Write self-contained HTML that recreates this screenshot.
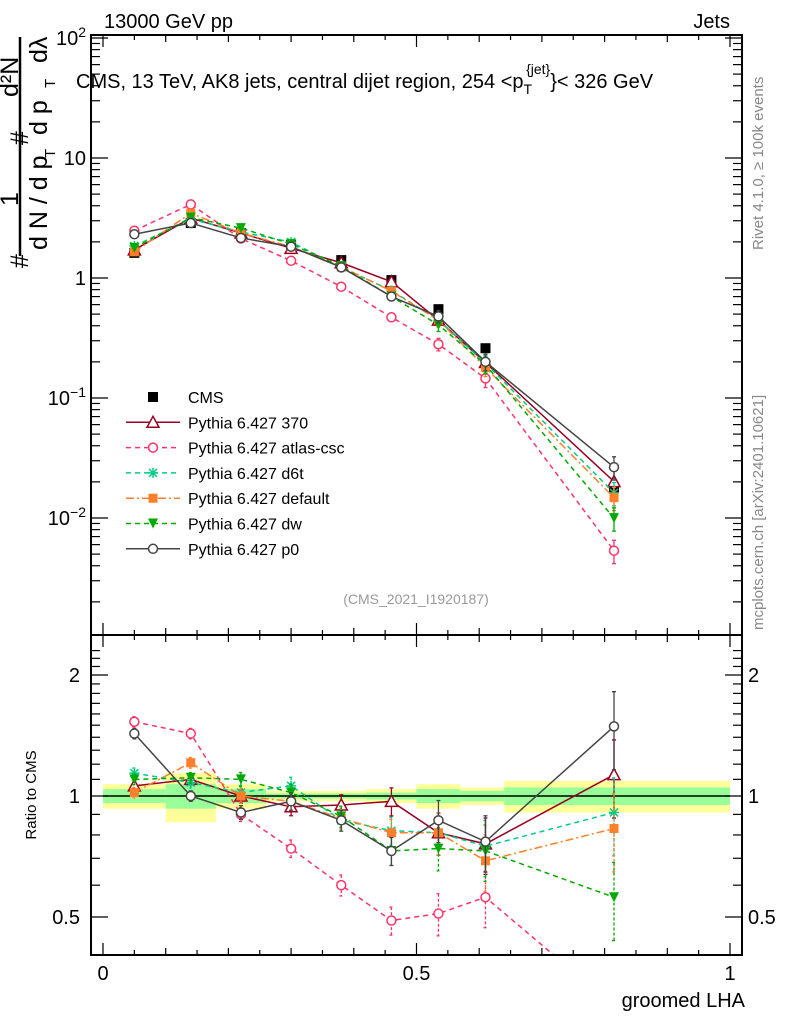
<!DOCTYPE html>
<html><head><meta charset="utf-8">
<style>
body{margin:0;background:#fff;}
svg{display:block;font-family:"Liberation Sans",sans-serif;}
</style></head>
<body>
<svg id="c" width="786" height="1024" viewBox="0 0 786 1024"></svg>
<script>
const binEdges=[0,0.1,0.18,0.26,0.34,0.42,0.5,0.57,0.64,1.0];
const binCenters=[0.05,0.14,0.22,0.30,0.38,0.46,0.535,0.61,0.815];
const cmsValues=[1.62,2.87,2.37,1.88,1.41,0.96,0.55,0.26,0.0178];
const bandTotal=[0.07,0.14,0.07,0.03,0.03,0.04,0.07,0.05,0.09];
const bandStat=[0.04,0.07,0.04,0.015,0.015,0.02,0.04,0.03,0.05];
const ratio370=[1.06,1.10,1.0,0.94,0.95,0.97,0.81,0.76,1.13];
const ratioAtlas=[1.53,1.43,0.90,0.74,0.60,0.49,0.51,0.56,0.30];
const ratioD6t=[1.14,1.08,1.02,1.06,0.87,0.82,0.81,0.75,0.91];
const ratioDefault=[1.02,1.21,1.0,0.97,0.88,0.81,0.81,0.69,0.83];
const ratioDw=[1.10,1.11,1.10,1.02,0.89,0.73,0.74,0.73,0.56];
const ratioP0=[1.43,1.0,0.91,0.97,0.87,0.73,0.87,0.77,1.49];
const relErr=[0.03,0.03,0.04,0.05,0.06,0.08,0.12,0.16,0.22];

const NS="http://www.w3.org/2000/svg";
const svg=document.getElementById('c');
function mk(tag,attrs,parent){const e=document.createElementNS(NS,tag);for(const k in attrs)e.setAttribute(k,attrs[k]);(parent||svg).appendChild(e);return e;}
const X0=103,X1=730,FL=91,FR=742,MT=35,MB=635,RB=955;
const xs=v=>X0+(X1-X0)*v;
const ym=v=>278-120*Math.log10(v);
const yr=v=>796-402*Math.log10(v);

// ratio bands
binCenters.forEach((c,i)=>{
  const x1=xs(binEdges[i]),x2=xs(binEdges[i+1]);
  let r=mk('rect',{x:x1,y:yr(1+bandTotal[i]),width:x2-x1,height:yr(1-bandTotal[i])-yr(1+bandTotal[i]),fill:'#ffff99'});
  
  
  r=mk('rect',{x:x1,y:yr(1+bandStat[i]),width:x2-x1,height:yr(1-bandStat[i])-yr(1+bandStat[i]),fill:'#99ff99'});
  
  
});
mk('line',{x1:X0,x2:X1,y1:yr(1),y2:yr(1),stroke:'#000','stroke-width':1.5,});

const defs=mk('defs',{});
const cp1=mk('clipPath',{id:'cpr'},defs);mk('rect',{x:FL,y:MB,width:FR-FL,height:RB-MB},cp1);
const cp2=mk('clipPath',{id:'cpm'},defs);mk('rect',{x:FL,y:MT,width:FR-FL,height:MB-MT},cp2);

function marker(t,x,y,c,g){
  if(t==='tri')mk('polygon',{points:`${x},${y-6} ${x-6},${y+5} ${x+6},${y+5}`,fill:'#fff',stroke:c,'stroke-width':1.5},g);
  else if(t==='circ')mk('circle',{cx:x,cy:y,r:4.5,fill:'#fff',stroke:c,'stroke-width':1.5},g);
  else if(t==='sq')mk('rect',{x:x-4.5,y:y-4.5,width:9,height:9,fill:c},g);
  else if(t==='tdown')mk('polygon',{points:`${x-5},${y-5} ${x+5},${y-5} ${x},${y+5}`,fill:c},g);
  else if(t==='star'){mk('path',{d:`M${x-5},${y}H${x+5}M${x},${y-5}V${y+5}M${x-4},${y-4}L${x+4},${y+4}M${x-4},${y+4}L${x+4},${y-4}`,stroke:c,'stroke-width':1.5},g);}
  else if(t==='bsq')mk('rect',{x:x-5,y:y-5,width:10,height:10,fill:c},g);
}

// CMS data (drawn first, behind MC)
const gd=mk('g',{});


binCenters.forEach((c,i)=>{marker('bsq',xs(c),ym(cmsValues[i]),'#000',gd);});

const series=[
 {n:'370',r:ratio370,c:'#990022',d:'',m:'tri'},
 {n:'atlas-csc',r:ratioAtlas,c:'#ff3366',d:'5,4',m:'circ'},
 {n:'d6t',r:ratioD6t,c:'#00cc88',d:'5,4',m:'star'},
 {n:'default',r:ratioDefault,c:'#ff7f2a',d:'8,3,2,3',m:'sq'},
 {n:'dw',r:ratioDw,c:'#00aa00',d:'5,4',m:'tdown'},
 {n:'p0',r:ratioP0,c:'#444444',d:'',m:'circ'}
];
series.forEach(s=>{
  const g=mk('g',{'clip-path':'url(#cpr)'});
  
  
  mk('polyline',{points:binCenters.map((c,i)=>xs(c)+','+yr(s.r[i])).join(' '),fill:'none',stroke:s.c,'stroke-width':1.5,'stroke-dasharray':s.d},g);
  binCenters.forEach((c,i)=>{
    const x=xs(c),e=relErr[i]*s.r[i];
    const ya=yr(s.r[i]+e),yb=yr(Math.max(0.05,s.r[i]-e));
    mk('path',{d:`M${x},${ya}V${yb}M${x-2},${ya}H${x+2}M${x-2},${yb}H${x+2}`,stroke:s.c,'stroke-width':1.3,'stroke-dasharray':s.d?'3,2':''},g);
    marker(s.m,x,yr(s.r[i]),s.c,g);
  });
  const g2=mk('g',{'clip-path':'url(#cpm)'});
  
  
  const vals=s.r.map((r,i)=>r*cmsValues[i]);
  mk('polyline',{points:binCenters.map((c,i)=>xs(c)+','+ym(vals[i])).join(' '),fill:'none',stroke:s.c,'stroke-width':1.5,'stroke-dasharray':s.d},g2);
  binCenters.forEach((c,i)=>{
    const x=xs(c),e=relErr[i]*vals[i];
    if(i>=5){const ya=ym(vals[i]+e),yb=ym(vals[i]-e);mk('path',{d:`M${x},${ya}V${yb}M${x-2},${ya}H${x+2}M${x-2},${yb}H${x+2}`,stroke:s.c,'stroke-width':1.3},g2);}
    marker(s.m,x,ym(vals[i]),s.c,g2);
  });
});

// frames
mk('rect',{x:FL,y:MT,width:FR-FL,height:MB-MT,fill:'none',stroke:'#000','stroke-width':2,});
mk('rect',{x:FL,y:MB,width:FR-FL,height:RB-MB,fill:'none',stroke:'#000','stroke-width':2,});

// x ticks
for(let k=0;k<=20;k++){const v=k*0.05,x=xs(v),L=(k%10===0)?12:(k%2===0?7:5);
  [MT,MB].forEach(y0=>mk('line',{x1:x,x2:x,y1:y0,y2:y0+L,stroke:'#000','stroke-width':1.2}));
  [MB,RB].forEach(y0=>mk('line',{x1:x,x2:x,y1:y0,y2:y0-L,stroke:'#000','stroke-width':1.2}));
}
[['0',0],['0.5',0.5],['1',1]].forEach(([t,v])=>{const e=mk('text',{x:xs(v),y:980,'font-size':20,'text-anchor':'middle',});e.textContent=t;});
let t=mk('text',{x:745,y:1007,'font-size':20,'text-anchor':'end',});t.textContent='groomed LHA';

// main y ticks
for(let d=-4;d<=2;d++){for(let m=1;m<10;m++){const v=m*Math.pow(10,d),y=ym(v);if(y<MT||y>MB)continue;const L=m===1?17:9;
  mk('line',{x1:FL,x2:FL+L,y1:y,y2:y,stroke:'#000','stroke-width':1.2});mk('line',{x1:FR,x2:FR-L,y1:y,y2:y,stroke:'#000','stroke-width':1.2});}}
[-2,-1,0,1,2].forEach(d=>{const e=mk('text',{x:86,y:ym(Math.pow(10,d))+7,'font-size':20,'text-anchor':'end',});
  if(d===0)e.textContent='1';else if(d===1)e.textContent='10';else{e.textContent='10';const s=mk('tspan',{dy:-8,'font-size':14},e);s.textContent=d===2?'2':(d===-1?'\u22121':'\u22122');}});
// ratio ticks
[0.4,0.5,0.6,0.7,0.8,0.9,1,1.1,1.2,1.3,1.4,1.5,1.6,1.7,1.8,1.9,2,2.1,2.2,2.3].forEach(v=>{const y=yr(v);if(y<MB||y>RB)return;const L=(v===0.5||v===1||v===2)?17:9;
  mk('line',{x1:FL,x2:FL+L,y1:y,y2:y,stroke:'#000','stroke-width':1.2});mk('line',{x1:FR,x2:FR-L,y1:y,y2:y,stroke:'#000','stroke-width':1.2});});
[['2',2],['1',1],['0.5',0.5]].forEach(([s,v])=>{let e=mk('text',{x:80,y:yr(v)+7,'font-size':20,'text-anchor':'end',});e.textContent=s;
  e=mk('text',{x:748,y:yr(v)+7,'font-size':20,});e.textContent=s;});
t=mk('text',{transform:'translate(36,795) rotate(-90)','font-size':15,'text-anchor':'middle',});t.textContent='Ratio to CMS';

// headers
t=mk('text',{x:104,y:28,'font-size':20,});t.textContent='13000 GeV pp';
t=mk('text',{x:730,y:28,'font-size':20,'text-anchor':'end',});t.textContent='Jets';
t=mk('text',{x:76,y:88,'font-size':20,});t.textContent='CMS, 13 TeV, AK8 jets, central dijet region, 254 <p';
let ts=mk('tspan',{dy:6,'font-size':14},t);ts.textContent='T';
ts=mk('tspan',{dy:-20,dx:-6,'font-size':14},t);ts.textContent='{jet}';
ts=mk('tspan',{dy:14,'font-size':20},t);ts.textContent='}< 326 GeV';
t=mk('text',{x:416,y:604,'font-size':14,fill:'#999','text-anchor':'middle',});t.textContent='(CMS_2021_I1920187)';
t=mk('text',{transform:'translate(763,250) rotate(-90)','font-size':15,fill:'#888',});t.textContent='Rivet 4.1.0, \u2265 100k events';
t=mk('text',{transform:'translate(763,630) rotate(-90)','font-size':15,fill:'#888',});t.textContent='mcplots.cern.ch [arXiv:2401.10621]';

// y axis title
const yt=mk('g',{});
function rt(x,y,s,txt){const e=mk('text',{transform:`translate(${x},${y}) rotate(-90)`,'font-size':s},yt);e.textContent=txt;}
mk('line',{x1:20,x2:20,y1:37,y2:256,stroke:'#000','stroke-width':2.5},yt);
rt(28,268,25,'#');
rt(18,206,25,'1');
rt(47,250,25,'d N / d p');
rt(55,158,15,'T');
rt(28,145,25,'#');
rt(18,97,25,'d\u00B2N');
rt(47,135,25,'d p');
rt(55,88,15,'T');
rt(47,63,25,'d\u03BB');

// legend
const leg=[['CMS','#000','','bsq'],['Pythia 6.427 370','#990022','','tri'],['Pythia 6.427 atlas-csc','#ff3366','5,4','circ'],['Pythia 6.427 d6t','#00cc88','5,4','star'],['Pythia 6.427 default','#ff7f2a','8,3,2,3','sq'],['Pythia 6.427 dw','#00aa00','5,4','tdown'],['Pythia 6.427 p0','#444444','','circ']];
leg.forEach((l,i)=>{const y=397+25.3*i;const g=mk('g',{});
  
  
  if(i>0)mk('line',{x1:126,x2:180,y1:y,y2:y,stroke:l[1],'stroke-width':1.5,'stroke-dasharray':l[2]},g);
  marker(l[3],153,y,l[1],g);
  const e=mk('text',{x:188,y:y+6,'font-size':16},g);e.textContent=l[0];});
</script>
</body></html>
